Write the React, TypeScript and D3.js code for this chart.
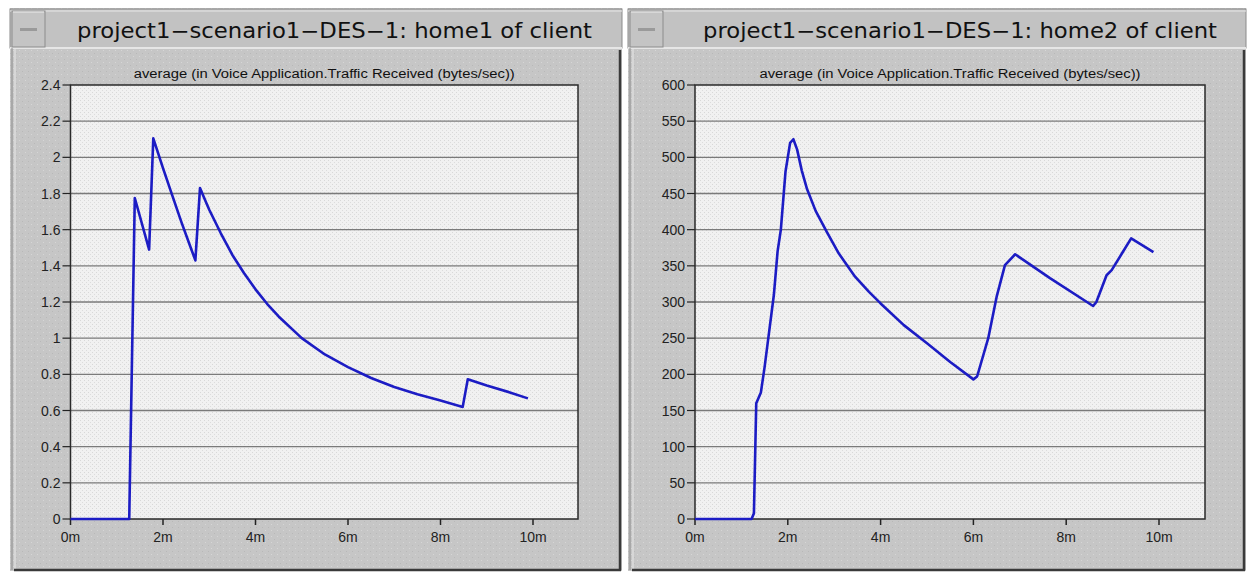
import React from "react";
import * as d3 from "d3";

// ---- data ----
const xTicks = [0, 2, 4, 6, 8, 10];
const xTickLabels = ["0m", "2m", "4m", "6m", "8m", "10m"];
const leftYTicks = [0, 0.2, 0.4, 0.6, 0.8, 1, 1.2, 1.4, 1.6, 1.8, 2, 2.2, 2.4];
const leftYLabels = ["0", "0.2", "0.4", "0.6", "0.8", "1", "1.2", "1.4", "1.6", "1.8", "2", "2.2", "2.4"];
const rightYTicks = [0, 50, 100, 150, 200, 250, 300, 350, 400, 450, 500, 550, 600];

// home1 series (minutes, bytes/sec)
const leftT = [0, 1.27, 1.39, 1.70, 1.79, 2.0, 2.2, 2.4, 2.6, 2.70, 2.80, 2.9, 3.0, 3.25, 3.5, 3.75, 4.0, 4.25, 4.5, 5.0, 5.5, 6.0, 6.5, 7.0, 7.5, 8.0, 8.48, 8.59, 9.0, 9.5, 9.89];
const leftV = [0, 0, 1.775, 1.49, 2.105, 1.94, 1.79, 1.64, 1.50, 1.43, 1.83, 1.77, 1.71, 1.58, 1.46, 1.36, 1.27, 1.19, 1.12, 1.0, 0.91, 0.84, 0.78, 0.73, 0.69, 0.655, 0.62, 0.773, 0.738, 0.70, 0.667];

// home2 series
const rightT = [0, 1.22, 1.27, 1.32, 1.42, 1.5, 1.6, 1.7, 1.78, 1.85, 1.95, 2.05, 2.12, 2.2, 2.3, 2.41, 2.6, 2.84, 3.1, 3.45, 3.75, 4.0, 4.5, 5.0, 5.5, 6.0, 6.08, 6.32, 6.50, 6.68, 6.90, 7.65, 8.58, 8.65, 8.87, 8.98, 9.20, 9.40, 9.88];
const rightV = [0, 0, 8, 160, 175, 210, 260, 310, 370, 400, 480, 520, 525, 511, 482, 457, 426, 397, 367, 335, 314, 298, 268, 243, 217, 193, 197, 250, 307, 351, 366, 333, 294.5, 300, 337, 344, 367, 388, 369];

const titles = [
  "project1\u2212scenario1\u2212DES\u22121: home1 of client",
  "project1\u2212scenario1\u2212DES\u22121: home2 of client",
];
const subtitle = "average (in Voice Application.Traffic Received (bytes/sec))";

type PanelProps = {
  ox: number;
  width: number;
  title: string;
  titleX: number;
  titleW: number;
  plotL: number;
  plotR: number;
  x10: number;
  yTicks: number[];
  yLabels: string[];
  yMax: number;
  t: number[];
  v: number[];
};

function Panel(p: PanelProps) {
  const top = 85, bottom = 519;
  const x = d3.scaleLinear().domain([0, 10]).range([p.plotL, p.x10]);
  const y = d3.scaleLinear().domain([0, p.yMax]).range([bottom, top]);
  const pts = p.t.map((tt, i) => [tt, p.v[i]] as [number, number]);
  const line = d3.line<[number, number]>().x((d) => x(d[0])).y((d) => y(d[1]));
  const right = p.ox + p.width;
  const cx = (p.plotL + p.plotR) / 2;
  return (
    <g>
      <rect x={p.ox} y={8} width={p.width} height={563} fill="url(#bodyPat)" />
      <rect x={p.ox} y={9} width={p.width} height={39} fill="#c2c2c2" stroke="#8a8a8a" />
      <line x1={p.ox} x2={right} y1={11} y2={11} stroke="#e8e8e8" />
      <line x1={p.ox} x2={right} y1={48} y2={48} stroke="#e6e6e6" strokeWidth={2} />
      <rect x={p.ox + 2} y={11} width={33} height={36} fill="#c4c4c4" stroke="#8c8c8c" />
      <line x1={p.ox + 3} x2={p.ox + 34} y1={12} y2={12} stroke="#ececec" />
      <rect x={p.ox + 10} y={28} width={17} height={3} fill="#9a9a9a" />
      <text x={p.titleX} y={38} fontFamily="DejaVu Sans, sans-serif" fontSize={20.5} fill="#111" textLength={p.titleW} lengthAdjust="spacingAndGlyphs">{p.title}</text>
      <line x1={p.ox + 2} x2={p.ox + 2} y1={48} y2={570} stroke="#8a8a8a" />
      <line x1={p.ox + 5} x2={p.ox + 5} y1={48} y2={570} stroke="#e8e8e8" />
      <line x1={right - 2} x2={right - 2} y1={50} y2={570} stroke="#3a3a3a" strokeWidth={2.5} />
      <line x1={p.ox + 4} x2={right - 1} y1={570} y2={570} stroke="#3a3a3a" strokeWidth={2.5} />
      <text x={cx} y={78} textAnchor="middle" fontFamily="Liberation Sans, Arial, sans-serif" fontSize={12} fill="#111" textLength={381} lengthAdjust="spacingAndGlyphs">{subtitle}</text>
      <rect x={p.plotL} y={top} width={p.plotR - p.plotL} height={bottom - top} fill="url(#plotPat)" />
      {p.yTicks.map((tk, i) => (
        <g key={"y" + i}>
          {i > 0 && i < p.yTicks.length - 1 && (
            <line x1={p.plotL} x2={p.plotR} y1={y(tk)} y2={y(tk)} stroke="#7a7a7a" strokeWidth={1.3} />
          )}
          <line x1={p.plotL - 8} x2={p.plotL} y1={y(tk)} y2={y(tk)} stroke="#222" strokeWidth={1.2} />
          <text x={p.plotL - 10} y={y(tk) + 5} textAnchor="end" fontFamily="Liberation Sans, Arial, sans-serif" fontSize={14} fill="#222">{p.yLabels[i]}</text>
        </g>
      ))}
      {xTicks.map((tk, i) => (
        <g key={"x" + i}>
          <line x1={x(tk)} x2={x(tk)} y1={bottom} y2={bottom + 6} stroke="#222" strokeWidth={1.5} />
          <text x={x(tk)} y={542} textAnchor="middle" fontFamily="Liberation Sans, Arial, sans-serif" fontSize={14} fill="#222">{xTickLabels[i]}</text>
        </g>
      ))}
      <rect x={p.plotL} y={top} width={p.plotR - p.plotL} height={bottom - top} fill="none" stroke="#2a2a2a" strokeWidth={1.5} />
      <path d={line(pts) || ""} fill="none" stroke="#1c1cc4" strokeWidth={2.6} strokeLinejoin="round" />
    </g>
  );
}

export default function App() {
  return (
    <svg width={1247} height={574} style={{ position: "absolute", left: 0, top: 0 }}>
      <defs>
        <pattern id="bodyPat" width={6} height={6} patternUnits="userSpaceOnUse">
          <rect width={6} height={6} fill="#c6c6c6" />
          <rect x={1} y={2} width={1} height={1} fill="#d6d6d6" />
          <rect x={4} y={5} width={1} height={1} fill="#b8b8b8" />
        </pattern>
        <pattern id="plotPat" width={4} height={4} patternUnits="userSpaceOnUse">
          <rect width={4} height={4} fill="#f1f1f1" />
          <rect x={0} y={0} width={1} height={1} fill="#d8d8d8" />
          <rect x={2} y={2} width={1} height={1} fill="#dcdcdc" />
        </pattern>
      </defs>
      <rect width={1247} height={574} fill="#ffffff" />
      <Panel ox={10} width={612} title={titles[0]} titleX={77} titleW={515} plotL={70.5} plotR={578} x10={533}
        yTicks={leftYTicks} yLabels={leftYLabels} yMax={2.4} t={leftT} v={leftV} />
      <Panel ox={628} width={618} title={titles[1]} titleX={703} titleW={514} plotL={695} plotR={1205} x10={1159}
        yTicks={rightYTicks} yLabels={rightYTicks.map(String)} yMax={600} t={rightT} v={rightV} />
    </svg>
  );
}
